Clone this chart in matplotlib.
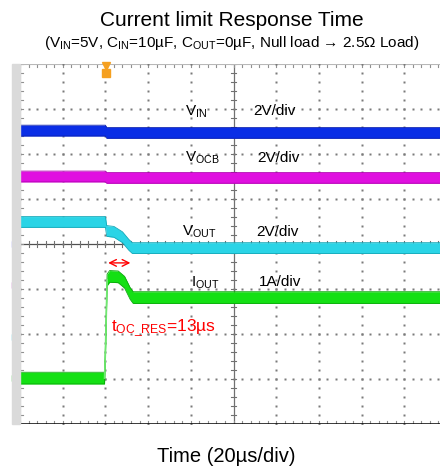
import matplotlib
matplotlib.use("Agg")
import matplotlib.pyplot as plt
from matplotlib.patches import Rectangle
from matplotlib import font_manager
import numpy as np

plt.rcParams['font.family'] = ['Liberation Sans', 'DejaVu Sans']
plt.rcParams['mathtext.fontset'] = 'custom'
plt.rcParams['mathtext.rm'] = 'Liberation Sans'
plt.rcParams['mathtext.it'] = 'Liberation Sans'
plt.rcParams['mathtext.default'] = 'regular'

names = {f.name for f in font_manager.fontManager.ttflist}
narrow = 'Liberation Sans Narrow' if 'Liberation Sans Narrow' in names else 'Liberation Sans'

# ---- data (time and level in scope divisions) ----
vin_t = [0, 2.0, 2.03, 10]
vin_v = [6.52, 6.52, 6.47, 6.47]
vocb_t = [0, 2.0, 2.03, 10]
vocb_v = [5.50, 5.50, 5.47, 5.47]
vout_t = [0, 2.0, 2.03, 2.2, 2.4, 2.55, 2.63, 10]
vout_v = [4.49, 4.49, 4.29, 4.27, 4.15, 3.98, 3.91, 3.91]
iout_t = [0, 1.98, 2.0, 2.04, 2.1, 2.3, 2.45, 2.58, 2.65, 10]
iout_v = [1.02, 1.02, 1.6, 3.2, 3.28, 3.27, 3.15, 2.9, 2.81, 2.81]
trigger_t = 2.01
resp_start, resp_end = 2.0, 2.65

title = "Current limit Response Time"
subtitle = "(V$_{IN}$=5V, C$_{IN}$=10µF, C$_{OUT}$=0µF, Null load → 2.5Ω Load)"
xlabel = "Time (20µs/div)"

W, H = 440, 472
fig = plt.figure(figsize=(W / 100, H / 100), dpi=100)
fig.patch.set_facecolor('white')
x0, x1, y0, y1 = 20, 447, 64, 424
ax = fig.add_axes([x0 / W, 1 - y1 / H, (x1 - x0) / W, (y1 - y0) / H])
ax.set_xlim(0, 10)
ax.set_ylim(0, 8)
ax.axis('off')

# left gray strip
fig.patches.append(Rectangle((12 / W, 1 - y1 / H), 8 / W, (y1 - y0) / H,
                             transform=fig.transFigure, color='#dadada', zorder=0))

gcol = '#7a7a7a'
# dotted grid
for gx in range(1, 10):
    if gx == 5:
        continue
    yy = np.arange(0, 8.001, 0.2)
    ax.plot([gx] * len(yy), yy, ls='none', marker='s', ms=1.6, color=gcol, mec='none', zorder=2)
for gy in range(1, 8):
    if gy == 4:
        continue
    xx = np.arange(0, 10.001, 0.2)
    ax.plot(xx, [gy] * len(xx), ls='none', marker='s', ms=1.6, color=gcol, mec='none', zorder=2)

# center axes with ticks
ax.axvline(5, color='#707070', lw=0.9, zorder=1)
ax.axhline(4, color='#505050', lw=0.9, zorder=1)
for ty in np.arange(0, 8.001, 0.2):
    ax.plot([4.93, 5.07], [ty, ty], color='#707070', lw=0.8, zorder=1)
    ax.plot([0, 0.07], [ty, ty], color='#909090', lw=0.8, zorder=1)
for tx in np.arange(0, 10.001, 0.2):
    ax.plot([tx, tx], [3.93, 4.07], color='#707070', lw=0.8, zorder=1)
    ax.plot([tx, tx], [7.93, 8.0], color='#909090', lw=0.8, zorder=1)
    ax.plot([tx, tx], [0.0, 0.07], color='#909090', lw=0.8, zorder=1)
ax.axhline(8, color='#b8b8b8', lw=0.8, zorder=1)
ax.axvline(0, color='#909090', lw=0.8, zorder=1)
ax.axhline(0, color='black', lw=1.8, zorder=5)

# traces
def band(t, v, col, edge, hw=0.12):
    t = np.asarray(t, float)
    v = np.asarray(v, float)
    ax.fill_between(t, v - hw, v + hw, color=col, lw=0, zorder=3)
    ax.plot(t, v + hw, color=edge, lw=0.6, zorder=3)
    ax.plot(t, v - hw, color=edge, lw=0.6, zorder=3)

band(vin_t, vin_v, '#0a2ee6', '#0a1fb0')
band(vocb_t, vocb_v, '#e010e0', '#b000b0')
band(vout_t, vout_v, '#2ad4e6', '#15a8b8')
band(iout_t, iout_v, '#14e014', '#0aa80a', hw=0.13)
ax.plot(iout_t[1:4], iout_v[1:4], color='#70e870', lw=1.2, zorder=3)

# trigger marker
ax.plot([trigger_t], [7.96], marker='v', ms=6, color='#f5a020', clip_on=False, zorder=6)
ax.plot([trigger_t], [7.80], marker='s', ms=5.5, color='#f5a020', clip_on=False, zorder=6)

# channel markers on left
for yv, c in [(4.0, '#9090ff'), (3.08, '#c050c0'), (1.93, '#40d0e0'), (1.02, '#20c020')]:
    ax.plot([-0.12], [yv], marker='>', ms=5, mfc='white', mec=c, mew=1.0,
            clip_on=False, zorder=6)

# response-time arrow
ax.annotate('', xy=(resp_start, 3.58), xytext=(resp_end, 3.58),
            arrowprops=dict(arrowstyle='<->', color='red', lw=1.0, mutation_scale=12),
            zorder=7)

fs = 11
ax.text(3.86, 6.93, 'V$_{IN}$', fontsize=fs, va='center', ha='left')
ax.text(5.46, 6.95, '2V/div', fontsize=fs, va='center', ha='left')
ax.text(3.86, 5.91, 'V$_{OCB}$', fontsize=fs, va='center', ha='left')
ax.text(5.55, 5.91, '2V/div', fontsize=fs, va='center', ha='left')
ax.text(3.79, 4.27, 'V$_{OUT}$', fontsize=fs, va='center', ha='left')
ax.text(5.53, 4.27, '2V/div', fontsize=fs, va='center', ha='left')
ax.text(4.0, 3.13, 'I$_{OUT}$', fontsize=fs, va='center', ha='left')
ax.text(5.6, 3.16, '1A/div', fontsize=fs, va='center', ha='left')
ax.text(2.13, 2.13, 't$_{OC\\_RES}$=13µs', fontsize=12.5, color='red', va='center',
        ha='left', family=[narrow, 'DejaVu Sans'])

fig.text(232 / W, 1 - 20 / H, title, fontsize=15, ha='center', va='center')
fig.text(232 / W, 1 - 43 / H, subtitle, fontsize=11, ha='center', va='center')
fig.text(226 / W, 1 - 457 / H, xlabel, fontsize=14.5, ha='center', va='center')

fig.savefig('out.png', dpi=100)
